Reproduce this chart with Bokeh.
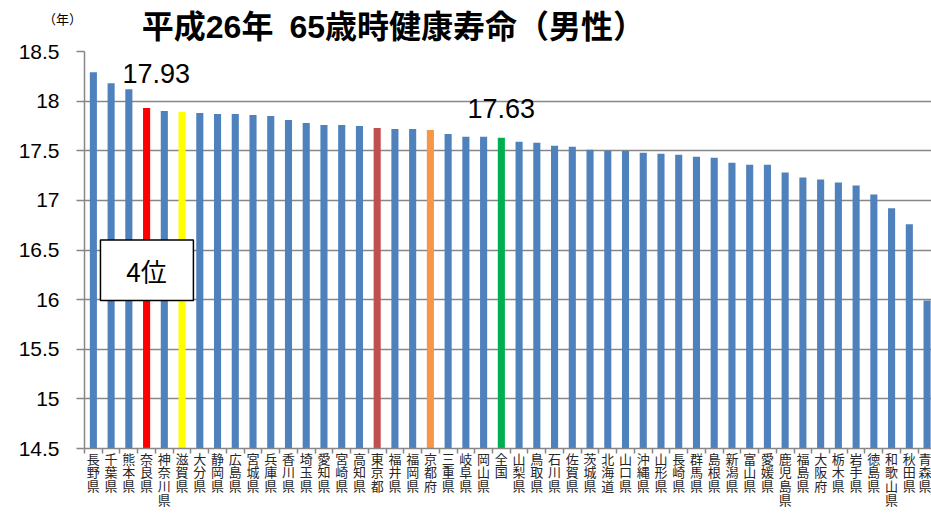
from bokeh.plotting import figure
from bokeh.models import (Range1d, FixedTicker, Label, BoxAnnotation, ColumnDataSource,
                          NumeralTickFormatter)
from bokeh.embed import file_html
from bokeh.resources import INLINE

prefectures = ["長野県", "千葉県", "熊本県", "奈良県", "神奈川県", "滋賀県", "大分県", "静岡県",
               "広島県", "宮城県", "兵庫県", "香川県", "埼玉県", "愛知県", "宮崎県", "高知県",
               "東京都", "福井県", "福岡県", "京都府", "三重県", "岐阜県", "岡山県", "全国",
               "山梨県", "鳥取県", "石川県", "佐賀県", "茨城県", "北海道", "山口県", "沖縄県",
               "山形県", "長崎県", "群馬県", "島根県", "新潟県", "富山県", "愛媛県", "鹿児島県",
               "福島県", "大阪府", "栃木県", "岩手県", "徳島県", "和歌山県", "秋田県", "青森県"]
values = [18.29, 18.18, 18.12, 17.93, 17.90, 17.89, 17.88, 17.87,
          17.87, 17.86, 17.85, 17.81, 17.78, 17.76, 17.76, 17.75,
          17.73, 17.72, 17.72, 17.71, 17.67, 17.64, 17.64, 17.63,
          17.59, 17.58, 17.55, 17.54, 17.51, 17.50, 17.50, 17.48,
          17.47, 17.46, 17.44, 17.43, 17.38, 17.36, 17.36, 17.28,
          17.23, 17.21, 17.18, 17.15, 17.06, 16.92, 16.76, 15.99]
highlight = {"奈良県": "#FF0000", "滋賀県": "#FFFF00", "東京都": "#C0504D",
             "京都府": "#F79646", "全国": "#00B050"}
base_color = "#4F81BD"
y_ticks = [14.5, 15, 15.5, 16, 16.5, 17, 17.5, 18, 18.5]

title_text = "平成26年\u200265歳時健康寿命（男性）"
unit_text = "（年）"
nara_value_text = "17.93"
national_value_text = "17.63"
rank_text = "4位"

GRAY = "#878787"
JP = "Noto Sans CJK JP"
NUM = "Liberation Sans"
MIXED = "Liberation Sans, Noto Sans CJK JP"

xs = list(range(len(prefectures)))
colors = [highlight.get(n, base_color) for n in prefectures]
src = ColumnDataSource(dict(x=xs, top=values, color=colors))

p = figure(frame_width=847, frame_height=397, output_backend="svg", toolbar_location=None,
           x_range=Range1d(-0.5, 47.25), y_range=Range1d(14.5, 18.5),
           min_border_left=84, min_border_right=0, min_border_top=48, min_border_bottom=60)
p.outline_line_color = None
p.background_fill_color = "white"

p.vbar(x="x", top="top", bottom=14.5, width=0.4, color="color", line_color=None, source=src)

# header texts (placed in the top panel so they are not clipped to the plot area)
p.add_layout(Label(x=2.73, y=18.75, text=title_text, text_font=MIXED, text_font_size="32px",
                   text_font_style="bold", text_align="left", text_baseline="middle",
                   text_color="#000000"), "above")
p.add_layout(Label(x=-1.74, y=18.82, text=unit_text, text_font=MIXED, text_font_size="13px",
                   text_align="center", text_baseline="middle", text_color="#000000"), "above")

# grid
p.xgrid.grid_line_color = None
p.ygrid.ticker = FixedTicker(ticks=y_ticks)
p.ygrid.grid_line_color = GRAY
p.ygrid.grid_line_width = 1.5

# y axis
p.yaxis.ticker = FixedTicker(ticks=y_ticks)
p.yaxis.formatter = NumeralTickFormatter(format="0.[0]")
p.yaxis.axis_line_color = GRAY
p.yaxis.axis_line_width = 1.5
p.yaxis.major_tick_line_color = GRAY
p.yaxis.major_tick_line_width = 1.5
p.yaxis.major_tick_out = 8
p.yaxis.major_tick_in = 0
p.yaxis.minor_tick_line_color = None
p.yaxis.major_label_standoff = 17
p.yaxis.major_label_text_font = NUM
p.yaxis.major_label_text_font_size = "21px"
p.yaxis.major_label_text_color = "#000000"

# x axis
xax = p.below[0]
xax.ticker = FixedTicker(ticks=xs, minor_ticks=[i + 0.5 for i in range(-1, len(xs))])
xax.major_label_overrides = {i: "\n".join(n) for i, n in enumerate(prefectures)}
xax.axis_line_color = GRAY
xax.axis_line_width = 1.5
xax.major_tick_line_color = None
xax.major_tick_out = 0
xax.major_tick_in = 0
xax.minor_tick_line_color = GRAY
xax.minor_tick_line_width = 1.5
xax.minor_tick_out = 5
xax.minor_tick_in = 0
xax.major_label_standoff = -5
xax.major_label_text_font = JP
xax.major_label_text_font_size = "13px"
xax.major_label_text_line_height = 0.72
xax.major_label_text_color = "#262626"
xax.major_label_orientation = "horizontal"

# annotations inside the plot area
p.add_layout(Label(x=1.64, y=18.28, text=nara_value_text, text_font=NUM, text_font_size="27px",
                   text_align="left", text_baseline="middle", text_color="#000000"))
p.add_layout(Label(x=23.0, y=17.93, text=national_value_text, text_font=NUM, text_font_size="27px",
                   text_align="center", text_baseline="middle", text_color="#000000"))
p.add_layout(BoxAnnotation(left=0.40, right=5.64, bottom=15.99, top=16.60,
                           fill_color="white", fill_alpha=1.0,
                           line_color="black", line_width=1.5, line_alpha=1.0))
p.add_layout(Label(x=3.0, y=16.29, text=rank_text, text_font=JP, text_font_size="26px",
                   text_align="center", text_baseline="middle", text_color="#000000"))

open("out.html", "w").write(file_html(p, INLINE))
